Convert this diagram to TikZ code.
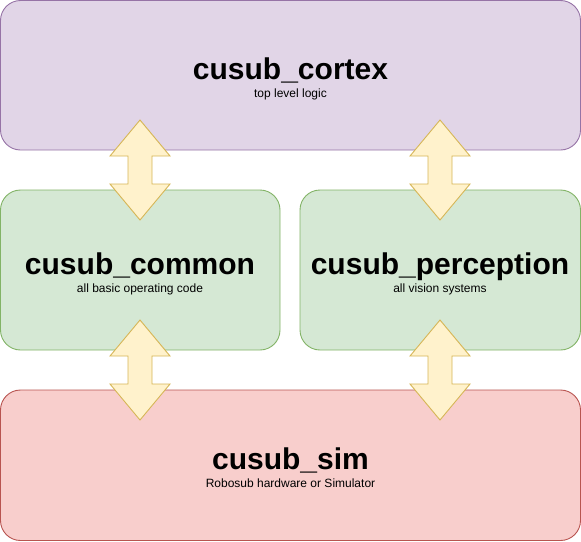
\documentclass[tikz,border=0pt]{standalone}
\usepackage{fontspec}
\setmainfont{Liberation Sans}
\definecolor{pfill}{HTML}{E1D5E7}\definecolor{pline}{HTML}{9673A6}
\definecolor{gfill}{HTML}{D5E8D4}\definecolor{gline}{HTML}{82B366}
\definecolor{rfill}{HTML}{F8CECC}\definecolor{rline}{HTML}{B85450}
\definecolor{afill}{HTML}{FFF2CC}\definecolor{aline}{HTML}{D6B656}
\begin{document}
\begin{tikzpicture}[x=1pt,y=-1pt,
  box/.style={draw,rounded corners=20pt,line width=0.9pt},
  ttl/.style={font=\bfseries\fontsize{30}{33}\selectfont,inner sep=0pt,anchor=base},
  sub/.style={font=\fontsize{12}{14}\selectfont,inner sep=0pt,anchor=base},
  dbl/.pic={\draw[fill=afill,draw=aline,line width=0.9pt,line join=miter]
    (0,-50) -- (30,-14) -- (12,-14) -- (12,14) -- (30,14) -- (0,50)
    -- (-30,14) -- (-12,14) -- (-12,-14) -- (-30,-14) -- cycle;}]
\useasboundingbox (0,0) rectangle (581,541);
\draw[box,fill=pfill,draw=pline] (0.5,0.5) rectangle (580.5,150);
\draw[box,fill=gfill,draw=gline] (0.5,190) rectangle (280,350);
\draw[box,fill=gfill,draw=gline] (300,190) rectangle (580.5,350);
\draw[box,fill=rfill,draw=rline] (0.5,390) rectangle (580.5,540.5);
\node[ttl] (t1) at (290.5,79) {cusub\_cortex};
\node[sub] (s1) at (290.5,97) {top level logic};
\node[ttl] (t2) at (140,274) {cusub\_common};
\node[sub] (s2) at (140,292) {all basic operating code};
\node[ttl] (t3) at (440,274) {cusub\_perception};
\node[sub] (s3) at (440,292) {all vision systems};
\node[ttl] (t4) at (290.5,469) {cusub\_sim};
\node[sub] (s4) at (290.5,487) {Robosub hardware or Simulator};
\pic at (140,170) {dbl};
\pic at (440,170) {dbl};
\pic at (140,370) {dbl};
\pic at (440,370) {dbl};
\end{tikzpicture}
\end{document}
